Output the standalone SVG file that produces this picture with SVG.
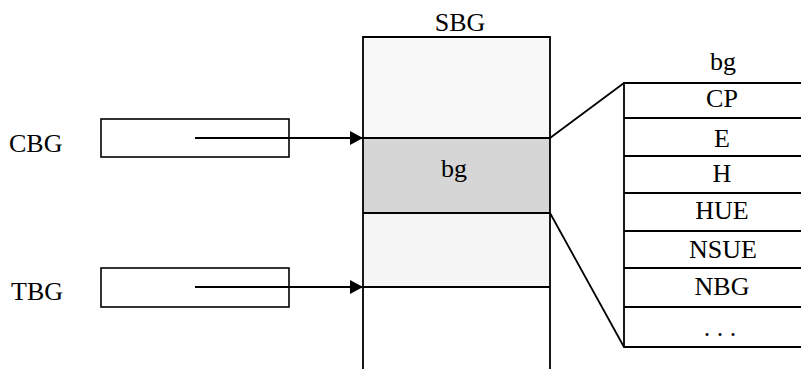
<svg xmlns="http://www.w3.org/2000/svg" width="801" height="369" viewBox="0 0 801 369">
<style>
.t{font-family:"Liberation Serif","Times New Roman",serif;font-size:26px;fill:#000}
.c{text-anchor:middle}
.ln{stroke:#000;stroke-width:1.8;fill:none}
.bx{stroke:#000;stroke-width:1.6;fill:#fff}
</style>
<defs>
<marker id="ah" viewBox="0 0 13 14" refX="13" refY="7" markerWidth="13" markerHeight="14" markerUnits="userSpaceOnUse" orient="auto">
<path d="M0,0 L13,7 L0,14 Z" fill="#000"/>
</marker>
</defs>
<rect width="801" height="369" fill="#fff"/>

<g id="SBG">
<rect x="363" y="37" width="187" height="101" fill="#f8f8f8"/>
<rect x="363" y="138" width="187" height="75" fill="#d6d6d6"/>
<rect x="363" y="213" width="187" height="74" fill="#f5f5f5"/>
<path class="ln" d="M363,369 V37 H550 V369 M363,138 H550 M363,213 H550 M363,287 H550"/>
<text class="t c" x="460" y="31">SBG</text>
<text class="t c" x="454" y="177">bg</text>
</g>

<g id="CBG">
<text class="t" x="9" y="152">CBG</text>
<rect class="bx" x="101" y="119" width="188" height="38"/>
</g>

<g id="TBG">
<text class="t" x="11" y="300">TBG</text>
<rect class="bx" x="101" y="268" width="188" height="39"/>
</g>

<g id="bgTable">
<text class="t c" x="723" y="70">bg</text>
<path class="ln" d="M802,83 H624 V347 H802 M624,118 H802 M624,156 H802 M624,193 H802 M624,231 H802 M624,268 H802 M624,307 H802"/>
<text class="t c" x="722" y="107">CP</text>
<text class="t c" x="722" y="147">E</text>
<text class="t c" x="722" y="182">H</text>
<text class="t c" x="722" y="219">HUE</text>
<text class="t c" x="723" y="258">NSUE</text>
<text class="t c" x="722" y="295">NBG</text>
<text class="t c" x="720" y="336">. . .</text>
</g>

<g id="connectors">
<path class="ln" d="M195,138 H363" marker-end="url(#ah)"/>
<path class="ln" d="M195,287 H363" marker-end="url(#ah)"/>
<path class="ln" d="M550,138 L624,83"/>
<path class="ln" d="M550,213 L624,347"/>
</g>
</svg>
